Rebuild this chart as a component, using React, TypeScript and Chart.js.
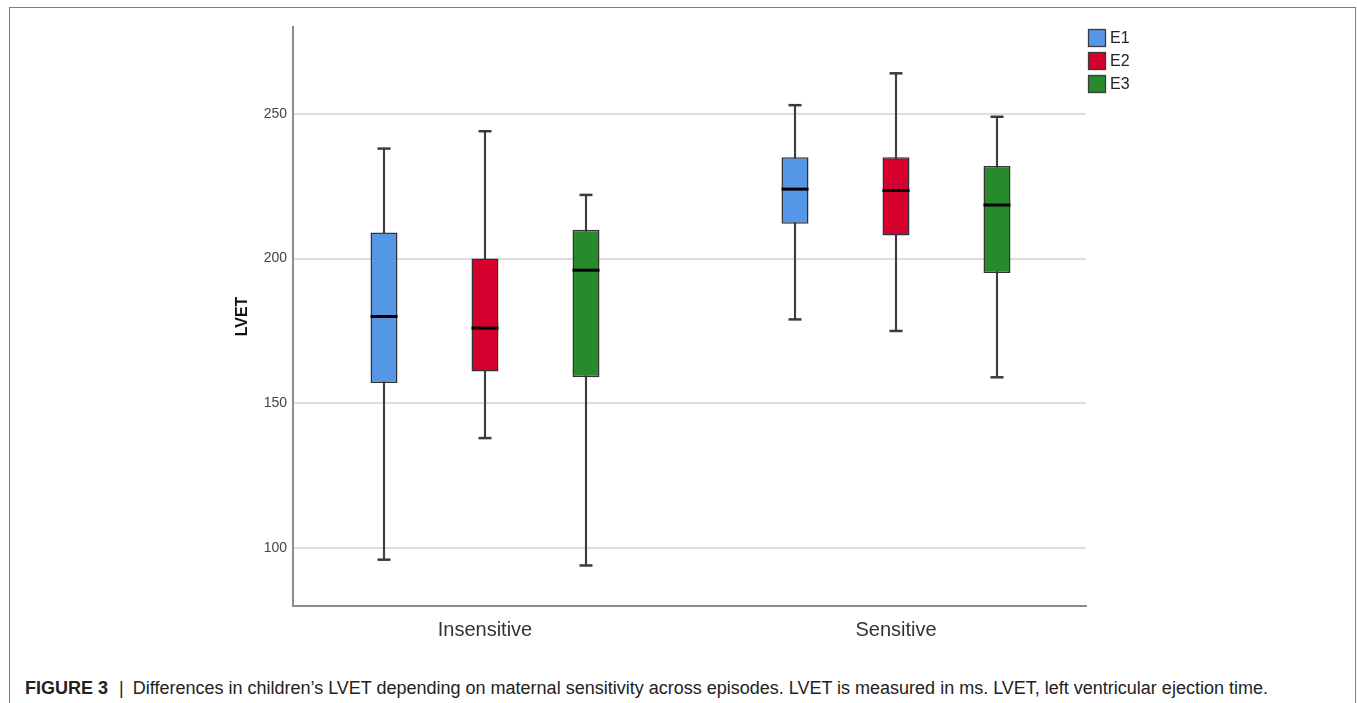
import React, { useEffect, useRef } from "react";
import { Chart, registerables } from "chart.js";

Chart.register(...registerables);

// ---- data ----
const categories = ["Insensitive", "Sensitive"];
const categoryPositions = [1, 2];
const seriesNames = ["E1", "E2", "E3"];
const seriesColors = ["#5597e6", "#d5002d", "#278a2b"];
// rows: E1, E2, E3 ; columns: Insensitive, Sensitive
const minValues = [
  [96, 179],
  [138, 175],
  [94, 159],
];
const q1Values = [
  [157, 212],
  [161, 208],
  [159, 195],
];
const medianValues = [
  [180, 224],
  [176, 223.5],
  [196, 218.5],
];
const q3Values = [
  [209, 235],
  [200, 235],
  [210, 232],
];
const maxValues = [
  [238, 253],
  [244, 264],
  [222, 249],
];
const yTicks = [100, 150, 200, 250];
const yMin = 80;
const yMax = 280;

// ---- layout constants ----
const CAT_PCT = 0.7372;
const BOX_PCT = 0.2673;
const WHISKER_PCT = 0.021;
const SLOT = CAT_PCT / seriesNames.length;
const PAD_LEFT = 229;

const boxLegend = {
  id: "boxLegend",
  afterDraw(chart: any) {
    const ctx = chart.ctx;
    const x0 = chart.chartArea.right + 2;
    ctx.save();
    seriesNames.forEach((name, i) => {
      const y = chart.chartArea.top + 2 + i * 23;
      ctx.fillStyle = seriesColors[i];
      ctx.fillRect(x0, y, 18, 18);
      ctx.strokeStyle = "#3a3a3a";
      ctx.lineWidth = 1.3;
      ctx.strokeRect(x0 + 0.5, y + 0.5, 17, 17);
      ctx.fillStyle = "#222";
      ctx.font = '16px "Liberation Sans", Arial, sans-serif';
      ctx.textBaseline = "middle";
      ctx.textAlign = "left";
      ctx.fillText(name, x0 + 22, y + 10);
    });
    ctx.restore();
  },
};

export default function App() {
  const canvasRef = useRef<HTMLCanvasElement | null>(null);

  useEffect(() => {
    if (!canvasRef.current) return;
    Chart.defaults.font.family = '"Liberation Sans", Arial, sans-serif';

    const datasets: any[] = [];
    seriesNames.forEach((name, s) => {
      datasets.push({
        type: "bar",
        label: name,
        stack: name,
        order: 2,
        data: categories.map((_, c) => ({
          x: categoryPositions[c],
          y: [q1Values[s][c], q3Values[s][c]],
        })),
        backgroundColor: seriesColors[s],
        borderColor: "#333333",
        borderWidth: 1.5,
        borderSkipped: false,
        categoryPercentage: CAT_PCT,
        barPercentage: BOX_PCT,
      });
    });
    seriesNames.forEach((name, s) => {
      datasets.push({
        type: "bar",
        label: name + " whisker",
        stack: name,
        order: 3,
        data: categories.map((_, c) => ({
          x: categoryPositions[c],
          y: [minValues[s][c], maxValues[s][c]],
        })),
        backgroundColor: "#3d3d3d",
        borderWidth: 0,
        categoryPercentage: CAT_PCT,
        barPercentage: WHISKER_PCT,
      });
    });
    seriesNames.forEach((name, s) => {
      datasets.push({
        type: "scatter",
        label: name + " median",
        order: 0,
        data: categories.map((_, c) => ({
          x: categoryPositions[c] + (s - 1) * SLOT,
          y: medianValues[s][c],
        })),
        pointStyle: "line",
        pointRadius: 13.5,
        pointHoverRadius: 13.5,
        pointBorderWidth: 3,
        pointBorderColor: "#000000",
        pointBackgroundColor: "#000000",
      });
      datasets.push({
        type: "scatter",
        label: name + " caps",
        order: 1,
        data: categories.flatMap((_, c) => [
          { x: categoryPositions[c] + (s - 1) * SLOT, y: minValues[s][c] },
          { x: categoryPositions[c] + (s - 1) * SLOT, y: maxValues[s][c] },
        ]),
        pointStyle: "line",
        pointRadius: 6.5,
        pointHoverRadius: 6.5,
        pointBorderWidth: 2.5,
        pointBorderColor: "#3a3a3a",
        pointBackgroundColor: "#3a3a3a",
      });
    });

    const chart = new Chart(canvasRef.current, {
      type: "bar",
      data: { datasets },
      plugins: [boxLegend],
      options: {
        animation: false,
        responsive: false,
        maintainAspectRatio: false,
        layout: { padding: { left: PAD_LEFT, right: 271, top: 27, bottom: 0 } },
        plugins: {
          legend: { display: false },
          tooltip: { enabled: false },
        },
        scales: {
          x: {
            type: "linear",
            offset: false,
            min: 0.53285,
            max: 2.46229,
            afterBuildTicks: (scale: any) => {
              scale.ticks = categoryPositions.map((v) => ({ value: v }));
            },
            afterFit: (scale: any) => {
              scale.height = 62;
            },
            ticks: {
              padding: 12,
              color: "#333333",
              font: { size: 20 },
              callback: (v: any) => {
                const i = categoryPositions.indexOf(Number(v));
                return i >= 0 ? categories[i] : "";
              },
            },
            grid: { display: false, drawTicks: false },
            border: { display: true, color: "#8c8c8c", width: 2 },
          },
          y: {
            type: "linear",
            min: yMin,
            max: yMax,
            stacked: false,
            beginAtZero: false,
            afterBuildTicks: (scale: any) => {
              scale.ticks = yTicks.map((v) => ({ value: v }));
            },
            afterFit: (scale: any) => {
              scale.width = 293 - PAD_LEFT;
            },
            ticks: {
              padding: 6,
              color: "#444444",
              font: { size: 14 },
            },
            grid: { color: "#dddddd", lineWidth: 2, drawTicks: false },
            border: { display: true, color: "#8c8c8c", width: 2 },
            title: {
              display: true,
              text: "LVET",
              color: "#111111",
              font: { size: 16, weight: "bold" },
              padding: 4,
            },
          },
        },
      },
    });
    return () => chart.destroy();
  }, []);

  return (
    <div style={{ position: "relative", width: 1357, height: 703, overflow: "hidden", background: "#fff" }}>
      <style>{`html,body{margin:0;padding:0;overflow:hidden;background:#fff}`}</style>
      <div
        style={{
          position: "absolute",
          left: 9,
          top: 7,
          width: 1347,
          height: 760,
          boxSizing: "border-box",
          border: "1px solid #7c7c7c",
          borderBottom: "none",
        }}
      />
      <canvas
        ref={canvasRef}
        width={1357}
        height={668}
        style={{ position: "absolute", left: 0, top: 0, width: 1357, height: 668 }}
      />
      <div
        style={{
          position: "absolute",
          left: 25,
          top: 678,
          whiteSpace: "nowrap",
          fontFamily: '"Liberation Sans", Arial, sans-serif',
          fontSize: 18,
          lineHeight: "20px",
          color: "#222",
        }}
      >
        <b>FIGURE 3</b>
        <span style={{ margin: "0 9px 0 11px" }}>|</span>
        Differences in children’s LVET depending on maternal sensitivity across episodes. LVET is measured in ms. LVET, left ventricular ejection time.
      </div>
    </div>
  );
}
